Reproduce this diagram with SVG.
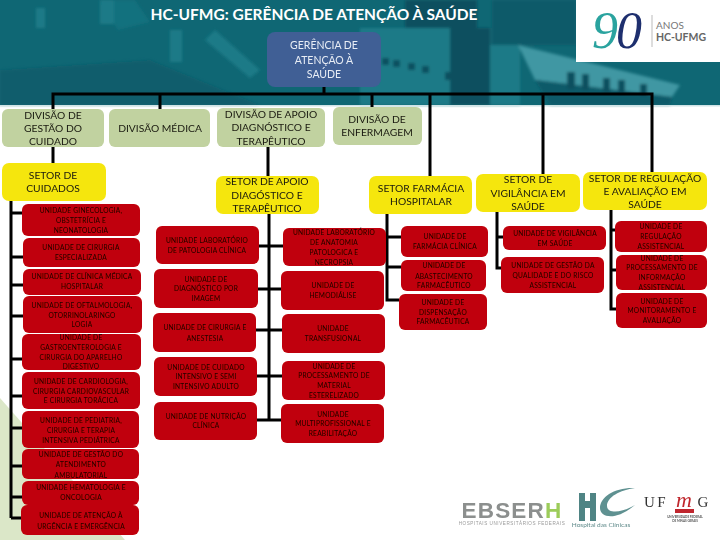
<svg xmlns="http://www.w3.org/2000/svg" width="720" height="540" viewBox="0 0 720 540">
<style>
text{font-family:"Lato","Liberation Sans",sans-serif;text-anchor:middle}
.t{font-size:15.5px;font-weight:700;fill:#fff}
.g{fill:#3f5f95}.gt{font-size:10.5px;fill:#e8edf5}
.d{fill:#c1d2a0}.y{fill:#f5e60f}
.dt{font-size:10.3px;fill:#1a1a10}
.r{fill:#c00008}
.rt{font-size:6.6px;fill:#1c0000;letter-spacing:.25px}
.c{fill:none;stroke:#000;stroke-width:3}
.ph{fill:#0b4f5e}.pl{fill:#3f97a3}.pm{fill:#1a7a87}.pd{fill:#0d5a69}
</style>
<defs>
<filter id="b" x="-5%" y="-5%" width="110%" height="110%"><feGaussianBlur stdDeviation="1.5"/></filter>
<filter id="s" x="-5%" y="-5%" width="110%" height="110%"><feGaussianBlur stdDeviation="0.3"/></filter>
</defs>
<rect width="720" height="540" fill="#fff"/>
<polygon points="0,398 125,540 0,540" fill="#dbe7c8"/>
<g id="photo">
<rect width="720" height="105" fill="#0f6774"/>
<g filter="url(#b)">
<polygon points="0,70 150,60 260,105 0,105" class="pd" opacity=".7"/>
<rect x="36" y="8" width="9" height="20" class="pm"/>
<rect x="100" y="0" width="14" height="24" class="pm"/>
<rect x="170" y="30" width="12" height="32" class="pm"/>
<polygon points="100,0 135,0 150,22 118,30" class="pm" opacity=".5"/>
<polygon points="215,30 260,70 250,78 205,40" class="pm"/>
<rect x="360" y="28" width="90" height="77" class="pm"/>
<rect x="492" y="0" width="84" height="45" class="pd"/>
<rect x="405" y="0" width="72" height="28" class="ph"/>
<rect x="450" y="28" width="40" height="77" class="ph"/>
<rect x="490" y="45" width="30" height="60" class="pm"/>
<polygon points="518,45 680,85 672,97 535,80" class="pl"/>
<polygon points="535,80 672,97 670,105 550,105" class="pd"/>
<rect x="567" y="72" width="8" height="17" class="ph"/><rect x="582" y="74" width="7" height="16" class="ph"/><rect x="603" y="78" width="7" height="15" class="ph"/><rect x="618" y="80" width="7" height="14" class="ph"/><rect x="640" y="84" width="7" height="12" class="ph"/>
<rect x="382" y="58" width="7" height="7" class="ph"/><rect x="393" y="60" width="7" height="7" class="ph"/><rect x="408" y="63" width="7" height="7" class="ph"/><rect x="422" y="66" width="7" height="7" class="ph"/><rect x="445" y="72" width="5" height="8" class="ph"/>
</g>
<rect y="105" width="720" height="1.500" fill="#cfe3e6"/>
</g>
<g id="logo90">
<rect x="576" y="0" width="144" height="62" fill="#fff"/>
<text x="616" y="48" style="font-family:'Liberation Serif',serif;font-style:italic;font-size:52px;letter-spacing:-2px;fill:#1e2f6e"><tspan fill="#2aa39f">9</tspan>0</text>
<rect x="651.500" y="15" width="1" height="32" fill="#bbb"/>
<text x="670" y="29" style="font-size:10px;fill:#777">ANOS</text>
<text x="681" y="41" style="font-size:10.500px;font-weight:700;fill:#666">HC-UFMG</text>
</g>
<text class="t" x="314" y="20">HC-UFMG: GERÊNCIA DE ATENÇÃO À SAÚDE</text>
<g id="connectors" class="c">
<path d="M324 87V94M53 109V94H652V172M160 94V109M372 94V107M430 94V176M543 94V174"/>
<path d="M53 147V163M268 147V176"/>
<path d="M11 201V518M11 213H22M11 257H23M11 285H23M11 316H23M11 359H22M11 396H22M11 428H22M11 466H22M11 497H22M11 518H21"/>
<path d="M269 214V420M259 246H283M258 289H281M256 330H282M257 376H282M257 420H281"/>
<path d="M387 214V300H399M387 237H401M387 267H401"/>
<path d="M497 212V268H501M497 237H503"/>
<path d="M611 210V309H616M611 230H615M611 270H616"/>
</g>
<g filter="url(#s)">
<g id="gerencia"><rect class="g" x="267" y="32" width="114" height="55" rx="8"/><text class="gt" x="324"><tspan x="324" y="49">GERÊNCIA DE</tspan><tspan x="324" y="63.500">ATENÇÃO À</tspan><tspan x="324" y="78">SAÚDE</tspan></text></g>
<g id="div-gestao"><rect class="d" x="2" y="109" width="102" height="38" rx="6"/><text class="dt"><tspan x="53" y="119">DIVISÃO DE</tspan><tspan x="53" y="131.500">GESTÃO DO</tspan><tspan x="53" y="145">CUIDADO</tspan></text></g>
<g id="div-medica"><rect class="d" x="109" y="109" width="101" height="38" rx="6"/><text class="dt"><tspan x="160" y="132">DIVISÃO MÉDICA</tspan></text></g>
<g id="div-apoio"><rect class="d" x="217" y="108" width="108" height="39" rx="6"/><text class="dt"><tspan x="271" y="118">DIVISÃO DE APOIO</tspan><tspan x="271" y="131">DIAGNÓSTICO E</tspan><tspan x="271" y="145">TERAPÊUTICO</tspan></text></g>
<g id="div-enf"><rect class="d" x="333" y="107" width="89" height="38" rx="6"/><text class="dt"><tspan x="377" y="123">DIVISÃO DE</tspan><tspan x="377" y="136">ENFERMAGEM</tspan></text></g>
<g id="set-cuidados"><rect class="y" x="2" y="163" width="104" height="38" rx="7"/><text class="dt"><tspan x="53" y="179">SETOR DE</tspan><tspan x="53" y="192">CUIDADOS</tspan></text></g>
<g id="set-apoio"><rect class="y" x="216" y="176" width="103" height="38" rx="7"/><text class="dt"><tspan x="267" y="185">SETOR DE APOIO</tspan><tspan x="267" y="199">DIAGÓSTICO E</tspan><tspan x="267" y="212">TERAPÊUTICO</tspan></text></g>
<g id="set-farm"><rect class="y" x="369" y="176" width="103" height="38" rx="7"/><text class="dt"><tspan x="421" y="192">SETOR FARMÁCIA</tspan><tspan x="421" y="205">HOSPITALAR</tspan></text></g>
<g id="set-vig"><rect class="y" x="476" y="174" width="104" height="38" rx="7"/><text class="dt"><tspan x="528" y="183">SETOR DE</tspan><tspan x="528" y="197">VIGILÂNCIA EM</tspan><tspan x="528" y="210">SAÚDE</tspan></text></g>
<g id="set-reg"><rect class="y" x="583" y="172" width="124" height="38" rx="7"/><text class="dt"><tspan x="645" y="182">SETOR DE REGULAÇÃO</tspan><tspan x="645" y="195">E AVALIAÇÃO EM</tspan><tspan x="645" y="208">SAÚDE</tspan></text></g>

<g id="u1"><rect class="r" x="22" y="204" width="118" height="32" rx="6"/><text class="rt"><tspan x="81" y="213">UNIDADE GINECOLOGIA,</tspan><tspan x="81" y="223">OBSTETRÍCIA E</tspan><tspan x="81" y="233">NEONATOLOGIA</tspan></text></g>
<g id="u2"><rect class="r" x="23" y="238" width="117" height="29" rx="6"/><text class="rt"><tspan x="81" y="249.500">UNIDADE DE CIRURGIA</tspan><tspan x="81" y="259.500">ESPECIALIZADA</tspan></text></g>
<g id="u3"><rect class="r" x="23" y="269" width="118" height="26" rx="6"/><text class="rt"><tspan x="82" y="279">UNIDADE DE CLÍNICA MÉDICA</tspan><tspan x="82" y="288.500">HOSPITALAR</tspan></text></g>
<g id="u4"><rect class="r" x="23" y="296" width="119" height="37" rx="6"/><text class="rt"><tspan x="82" y="308">UNIDADE DE OFTALMOLOGIA,</tspan><tspan x="82" y="317.500">OTORRINOLARINGO</tspan><tspan x="82" y="327">LOGIA</tspan></text></g>
<g id="u5"><rect class="r" x="22" y="334" width="119" height="36" rx="6"/><text class="rt"><tspan x="81" y="340">UNIDADE DE</tspan><tspan x="81" y="350">GASTROENTEROLOGIA E</tspan><tspan x="81" y="360">CIRURGIA DO APARELHO</tspan><tspan x="81" y="369">DIGESTIVO</tspan></text></g>
<g id="u6"><rect class="r" x="22" y="372" width="118" height="37" rx="6"/><text class="rt"><tspan x="81" y="384">UNIDADE DE CARDIOLOGIA,</tspan><tspan x="81" y="393.500">CIRURGIA CARDIOVASCULAR</tspan><tspan x="81" y="403">E CIRURGIA TORÁCICA</tspan></text></g>
<g id="u7"><rect class="r" x="22" y="411" width="117" height="37" rx="6"/><text class="rt"><tspan x="81" y="422.500">UNIDADE DE PEDIATRIA,</tspan><tspan x="81" y="432.500">CIRURGIA E TERAPIA</tspan><tspan x="81" y="442.500">INTENSIVA PEDIÁTRICA</tspan></text></g>
<g id="u8"><rect class="r" x="22" y="449" width="117" height="30" rx="6"/><text class="rt"><tspan x="81" y="457">UNIDADE DE GESTÃO DO</tspan><tspan x="81" y="467">ATENDIMENTO</tspan><tspan x="81" y="477.500">AMBULATORIAL</tspan></text></g>
<g id="u9"><rect class="r" x="22" y="481" width="117" height="24" rx="6"/><text class="rt"><tspan x="81" y="490">UNIDADE HEMATOLOGIA E</tspan><tspan x="81" y="499.500">ONCOLOGIA</tspan></text></g>
<g id="u10"><rect class="r" x="21" y="505" width="118" height="30" rx="6"/><text class="rt"><tspan x="81" y="517.500">UNIDADE DE ATENÇÃO À</tspan><tspan x="81" y="528.500">URGÊNCIA E EMERGÊNCIA</tspan></text></g>

<g id="u11"><rect class="r" x="156" y="226" width="103" height="38" rx="6"/><text class="rt"><tspan x="207" y="243">UNIDADE LABORATÓRIO</tspan><tspan x="207" y="253">DE PATOLOGIA CLÍNICA</tspan></text></g>
<g id="u12"><rect class="r" x="154" y="269" width="104" height="39" rx="6"/><text class="rt"><tspan x="206" y="281.500">UNIDADE DE</tspan><tspan x="206" y="291">DIAGNÓSTICO POR</tspan><tspan x="206" y="300.500">IMAGEM</tspan></text></g>
<g id="u13"><rect class="r" x="153" y="313" width="103" height="39" rx="6"/><text class="rt"><tspan x="205" y="329.500">UNIDADE DE CIRURGIA E</tspan><tspan x="205" y="340.500">ANESTESIA</tspan></text></g>
<g id="u14"><rect class="r" x="154" y="357" width="103" height="39" rx="6"/><text class="rt"><tspan x="206" y="369.500">UNIDADE DE CUIDADO</tspan><tspan x="206" y="378.500">INTENSIVO E SEMI</tspan><tspan x="206" y="388.500">INTENSIVO ADULTO</tspan></text></g>
<g id="u15"><rect class="r" x="154" y="402" width="103" height="38" rx="6"/><text class="rt"><tspan x="206" y="418.500">UNIDADE DE NUTRIÇÃO</tspan><tspan x="206" y="427.500">CLÍNICA</tspan></text></g>

<g id="u16"><rect class="r" x="283" y="228" width="103" height="38" rx="6"/><text class="rt"><tspan x="334" y="234.500">UNIDADE LABORATÓRIO</tspan><tspan x="334" y="244.500">DE ANATOMIA</tspan><tspan x="334" y="254.500">PATOLOGICA E</tspan><tspan x="334" y="264.500">NECROPSIA</tspan></text></g>
<g id="u17"><rect class="r" x="281" y="271" width="103" height="39" rx="6"/><text class="rt"><tspan x="333" y="288">UNIDADE DE</tspan><tspan x="333" y="298">HEMODIÁLISE</tspan></text></g>
<g id="u18"><rect class="r" x="282" y="314" width="103" height="39" rx="6"/><text class="rt"><tspan x="333" y="331">UNIDADE</tspan><tspan x="333" y="341">TRANSFUSIONAL</tspan></text></g>
<g id="u19"><rect class="r" x="282" y="361" width="103" height="39" rx="6"/><text class="rt"><tspan x="334" y="369">UNIDADE DE</tspan><tspan x="334" y="378">PROCESSAMENTO DE</tspan><tspan x="334" y="388">MATERIAL</tspan><tspan x="334" y="397.500">ESTERELIZADO</tspan></text></g>
<g id="u20"><rect class="r" x="281" y="404" width="103" height="39" rx="6"/><text class="rt"><tspan x="333" y="416.500">UNIDADE</tspan><tspan x="333" y="426">MULTIPROFISSIONAL E</tspan><tspan x="333" y="436">REABILITAÇÃO</tspan></text></g>

<g id="u21"><rect class="r" x="401" y="226" width="87" height="31" rx="6"/><text class="rt"><tspan x="445" y="239">UNIDADE DE</tspan><tspan x="445" y="249">FARMÁCIA CLÍNICA</tspan></text></g>
<g id="u22"><rect class="r" x="401" y="260" width="85" height="31" rx="6"/><text class="rt"><tspan x="444" y="267.500">UNIDADE DE</tspan><tspan x="444" y="278.500">ABASTECIMENTO</tspan><tspan x="444" y="288">FARMACÊUTICO</tspan></text></g>
<g id="u23"><rect class="r" x="399" y="294" width="88" height="36" rx="6"/><text class="rt"><tspan x="443" y="305">UNIDADE DE</tspan><tspan x="443" y="314.500">DISPENSAÇÃO</tspan><tspan x="443" y="324">FARMACÊUTICA</tspan></text></g>
<g id="u24"><rect class="r" x="503" y="226" width="103" height="24" rx="6"/><text class="rt"><tspan x="555" y="236">UNIDADE DE VIGILÂNCIA</tspan><tspan x="555" y="246">EM SAÚDE</tspan></text></g>
<g id="u25"><rect class="r" x="501" y="257" width="103" height="36" rx="6"/><text class="rt"><tspan x="553" y="267.500">UNIDADE DE GESTÃO DA</tspan><tspan x="553" y="278">QUALIDADE E DO RISCO</tspan><tspan x="553" y="287.500">ASSISTENCIAL</tspan></text></g>
<g id="u26"><rect class="r" x="615" y="221" width="92" height="31" rx="6"/><text class="rt"><tspan x="661" y="229">UNIDADE DE</tspan><tspan x="661" y="239">REGULAÇÃO</tspan><tspan x="661" y="249">ASSISTENCIAL</tspan></text></g>
<g id="u27"><rect class="r" x="616" y="255" width="91" height="35" rx="6"/><text class="rt"><tspan x="662" y="261">UNIDADE DE</tspan><tspan x="662" y="270">PROCESSAMENTO DE</tspan><tspan x="662" y="280">INFORMAÇÃO</tspan><tspan x="662" y="289.500">ASSISTENCIAL</tspan></text></g>
<g id="u28"><rect class="r" x="616" y="293" width="91" height="35" rx="6"/><text class="rt"><tspan x="662" y="304">UNIDADE DE</tspan><tspan x="662" y="313">MONITORAMENTO E</tspan><tspan x="662" y="322.500">AVALIAÇÃO</tspan></text></g>
</g>
<g id="logos" filter="url(#s)">
<text x="512" y="517.500" style="font-family:'Liberation Sans',sans-serif;font-weight:700;font-size:22.500px;letter-spacing:1.200px;fill:#8c8f8e">EBSER<tspan fill="#9ccc5a">H</tspan></text>
<text x="512" y="525" style="font-family:'Liberation Sans',sans-serif;font-size:4.600px;fill:#999;letter-spacing:.55px">HOSPITAIS UNIVERSITÁRIOS FEDERAIS</text>
<path d="M579 493h6v8h5v-8h6v28h-6v-13h-5v13h-6z" fill="#4f8484"/>
<path d="M635 488C615 487 600 497 600 508C600 517 615 522 635 505C622 513 607 514 607 506C607 497 620 490 635 488Z" fill="#5f9191"/>
<text x="601" y="527" style="font-size:6.500px;fill:#5f8a8a">Hospital das Clínicas</text>
<text x="644" y="507" style="font-family:'Liberation Serif',serif;font-size:15px;fill:#333;text-anchor:start;letter-spacing:2.500px">UF</text>
<text x="684" y="507" style="font-family:'Liberation Serif',serif;font-style:italic;font-size:22px;fill:#c0272d">m</text>
<text x="703" y="507" style="font-family:'Liberation Serif',serif;font-size:15px;fill:#333">G</text>
<rect x="675" y="509" width="19" height="4" fill="#c0272d"/>
<text x="685" y="518" style="font-size:3px;font-weight:700;fill:#555">UNIVERSIDADE FEDERAL</text>
<text x="685" y="522" style="font-size:3px;font-weight:700;fill:#555">DE MINAS GERAIS</text>
</g>
</svg>
